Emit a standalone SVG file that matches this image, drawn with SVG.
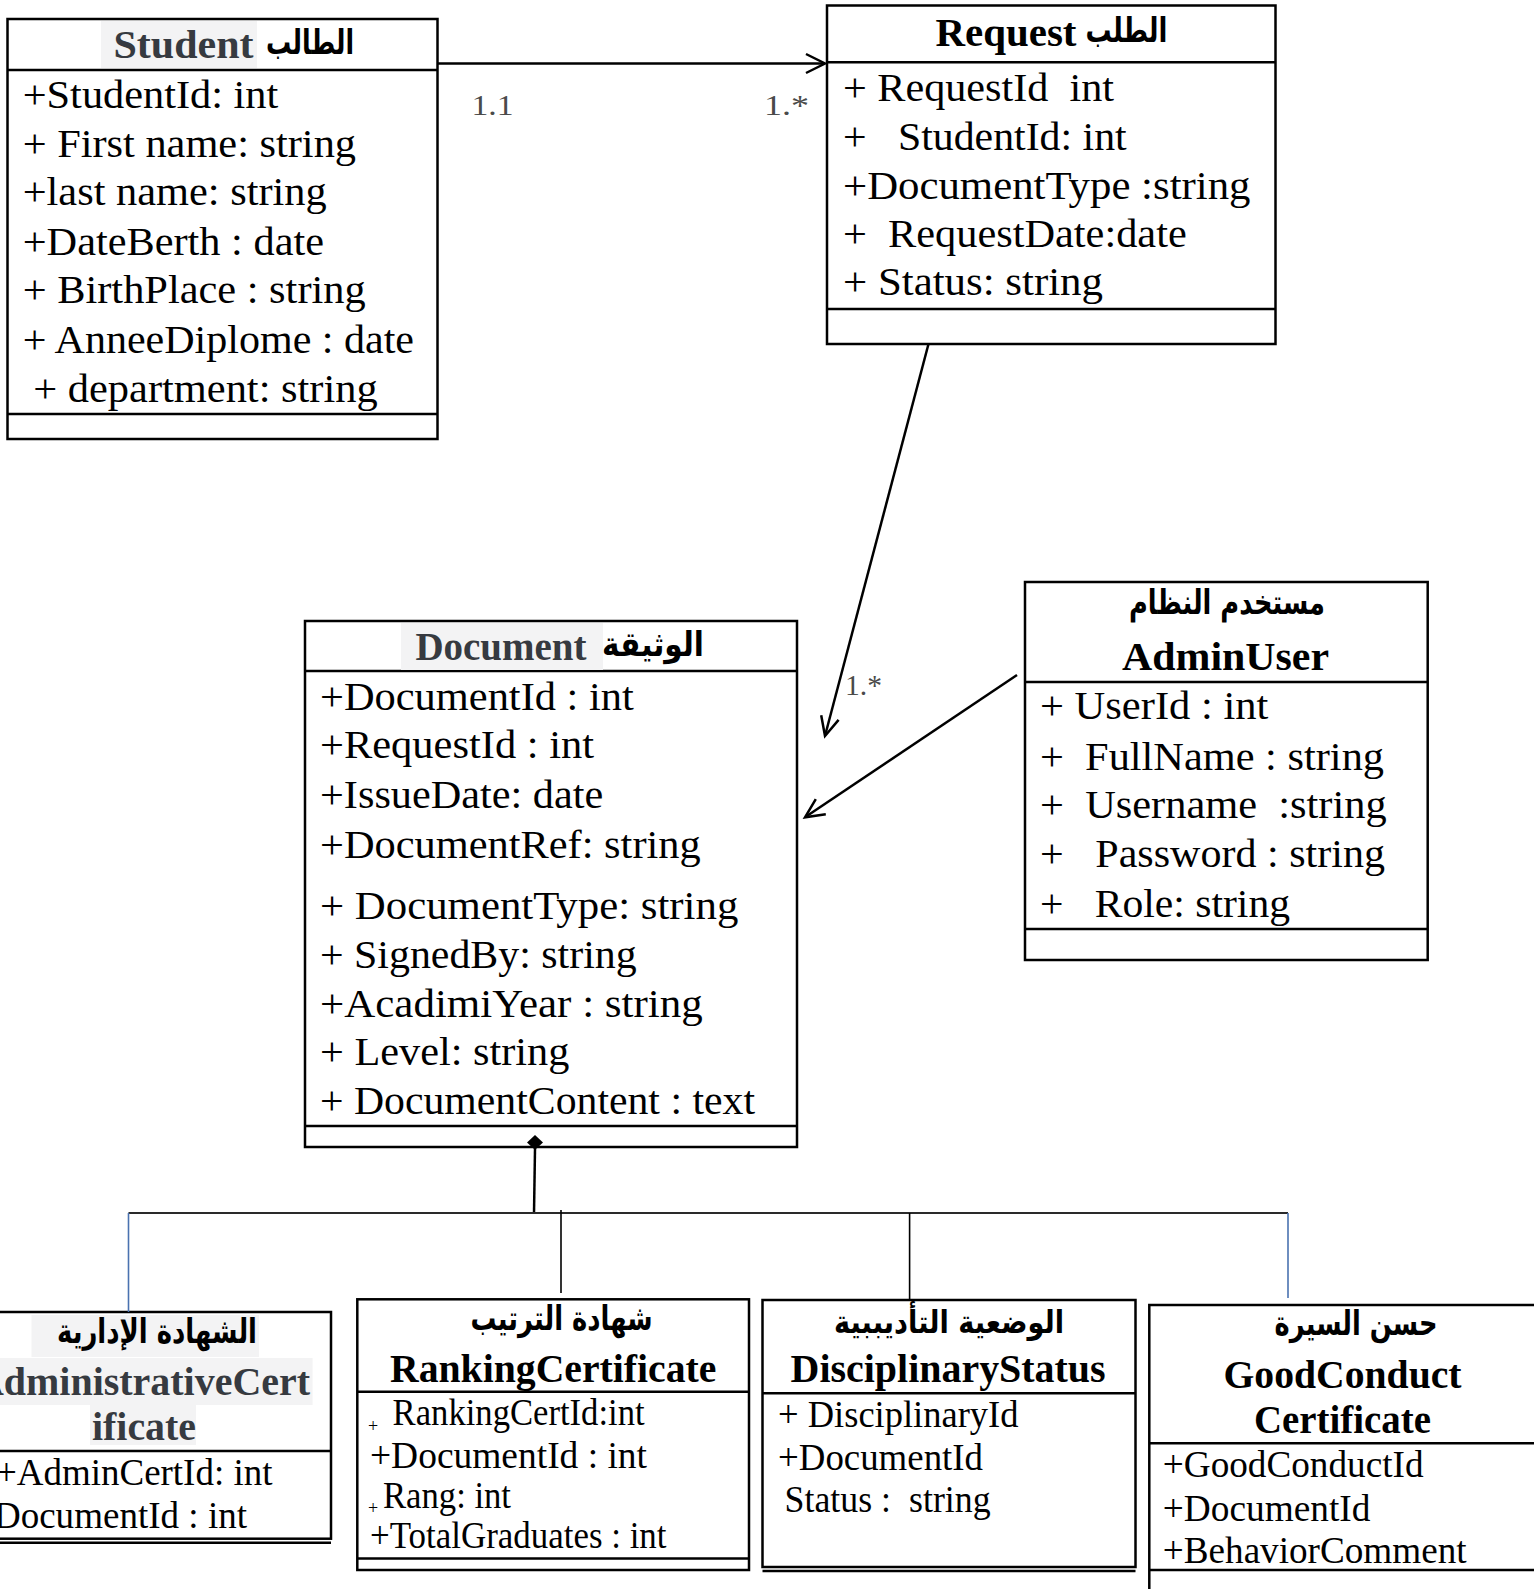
<svg xmlns="http://www.w3.org/2000/svg" width="1534" height="1589" viewBox="0 0 1534 1589">
<defs>
<style>
.box{fill:#fff;stroke:#000;stroke-width:2.5}
.ln{stroke:#000;stroke-width:2.5;fill:none}
.t{font-family:"Liberation Serif","Times New Roman",Times,serif;font-size:41px;fill:#000}
.s{font-size:37px}
.b{font-weight:bold;font-size:40px}
.g{fill:#363a40}
.ar{font-family:"DejaVu Sans","Noto Sans",sans-serif;font-weight:bold;font-size:34px;fill:#000;text-anchor:middle}
.hl{fill:#f3f3f4}
.m{font-family:"Liberation Serif","Times New Roman",Times,serif;font-size:30px;fill:#4a4a4a}
.con{stroke:#000;stroke-width:2.5;fill:none}
.thin{stroke:#000;stroke-width:1.6;fill:none}
.blue{stroke:#4a72b0;stroke-width:1.6;fill:none}
</style>
</defs>
<rect x="0" y="0" width="1534" height="1589" fill="#fff"/>

<g id="student">
<rect class="box" x="7.5" y="19" width="430" height="420"/>
<line class="ln" x1="7.5" y1="70" x2="437.5" y2="70"/>
<line class="ln" x1="7.5" y1="414" x2="437.5" y2="414"/>
<rect class="hl" x="101" y="21" width="156" height="47"/>
<text class="t b g" x="113.5" y="58" textLength="140" lengthAdjust="spacingAndGlyphs">Student</text>
<text class="ar" x="310" y="54" textLength="88" lengthAdjust="spacingAndGlyphs">الطالب</text>
<text class="t" x="22.7" y="108" textLength="255.6" lengthAdjust="spacingAndGlyphs">+StudentId: int</text>
<text class="t" x="22.7" y="157" textLength="333.3" lengthAdjust="spacingAndGlyphs">+ First name: string</text>
<text class="t" x="22.7" y="205" textLength="304" lengthAdjust="spacingAndGlyphs">+last name: string</text>
<text class="t" x="22.7" y="255" textLength="301.3" lengthAdjust="spacingAndGlyphs">+DateBerth : date</text>
<text class="t" x="22.7" y="303" textLength="343" lengthAdjust="spacingAndGlyphs">+ BirthPlace : string</text>
<text class="t" x="22.7" y="353" textLength="391.3" lengthAdjust="spacingAndGlyphs">+ AnneeDiplome : date</text>
<text class="t" x="33.3" y="402" textLength="344.4" lengthAdjust="spacingAndGlyphs">+ department: string</text>
</g>

<g id="request">
<rect class="box" x="827" y="5.5" width="448.5" height="338.5"/>
<line class="ln" x1="827" y1="62.3" x2="1275.5" y2="62.3"/>
<line class="ln" x1="827" y1="309" x2="1275.5" y2="309"/>
<text class="t b" x="935.5" y="45.7" textLength="141" lengthAdjust="spacingAndGlyphs">Request</text>
<text class="ar" x="1126.5" y="42" textLength="82" lengthAdjust="spacingAndGlyphs">الطلب</text>
<text class="t" x="843" y="101" xml:space="preserve" textLength="271" lengthAdjust="spacingAndGlyphs">+ RequestId  int</text>
<text class="t" x="843" y="150" xml:space="preserve" textLength="283.7" lengthAdjust="spacingAndGlyphs">+   StudentId: int</text>
<text class="t" x="843" y="199" textLength="407.5" lengthAdjust="spacingAndGlyphs">+DocumentType :string</text>
<text class="t" x="843" y="247" xml:space="preserve" textLength="343.7" lengthAdjust="spacingAndGlyphs">+  RequestDate:date</text>
<text class="t" x="843" y="295" textLength="260" lengthAdjust="spacingAndGlyphs">+ Status: string</text>
</g>

<g id="document">
<rect class="box" x="305" y="621" width="492" height="526"/>
<line class="ln" x1="305" y1="671" x2="797" y2="671"/>
<line class="ln" x1="305" y1="1126" x2="797" y2="1126"/>
<rect class="hl" x="401" y="623" width="202" height="47"/>
<text class="t b g" x="415.4" y="660" textLength="171" lengthAdjust="spacingAndGlyphs">Document</text>
<text class="ar" x="653" y="656" textLength="102" lengthAdjust="spacingAndGlyphs">الوثيقة</text>
<text class="t" x="320" y="710" textLength="313.8" lengthAdjust="spacingAndGlyphs">+DocumentId : int</text>
<text class="t" x="320" y="758" textLength="274" lengthAdjust="spacingAndGlyphs">+RequestId : int</text>
<text class="t" x="320" y="808" textLength="283.3" lengthAdjust="spacingAndGlyphs">+IssueDate: date</text>
<text class="t" x="320" y="858" textLength="380.7" lengthAdjust="spacingAndGlyphs">+DocumentRef: string</text>
<text class="t" x="320" y="919" textLength="418.3" lengthAdjust="spacingAndGlyphs">+ DocumentType: string</text>
<text class="t" x="320" y="968" textLength="316.7" lengthAdjust="spacingAndGlyphs">+ SignedBy: string</text>
<text class="t" x="320" y="1017" textLength="382.7" lengthAdjust="spacingAndGlyphs">+AcadimiYear : string</text>
<text class="t" x="320" y="1065" textLength="249.3" lengthAdjust="spacingAndGlyphs">+ Level: string</text>
<text class="t" x="320" y="1114" textLength="435" lengthAdjust="spacingAndGlyphs">+ DocumentContent : text</text>
</g>

<g id="adminuser">
<rect class="box" x="1025" y="582" width="402.7" height="378"/>
<line class="ln" x1="1025" y1="682" x2="1427.7" y2="682"/>
<line class="ln" x1="1025" y1="929" x2="1427.7" y2="929"/>
<text class="ar" x="1227" y="614" textLength="196" lengthAdjust="spacingAndGlyphs">مستخدم النظام</text>
<text class="t b" x="1122" y="670" textLength="207" lengthAdjust="spacingAndGlyphs">AdminUser</text>
<text class="t" x="1040" y="719" textLength="228.3" lengthAdjust="spacingAndGlyphs">+ UserId : int</text>
<text class="t" x="1040" y="770" xml:space="preserve" textLength="344" lengthAdjust="spacingAndGlyphs">+  FullName : string</text>
<text class="t" x="1040" y="818" xml:space="preserve" textLength="346.7" lengthAdjust="spacingAndGlyphs">+  Username  :string</text>
<text class="t" x="1040" y="867" xml:space="preserve" textLength="345" lengthAdjust="spacingAndGlyphs">+   Password : string</text>
<text class="t" x="1040" y="917" xml:space="preserve" textLength="250" lengthAdjust="spacingAndGlyphs">+   Role: string</text>
</g>

<g id="admincert">
<rect class="box" x="-45" y="1312" width="376" height="226.7"/>
<line class="ln" x1="-45" y1="1451" x2="331" y2="1451"/>
<line class="ln" x1="-45" y1="1542.7" x2="331" y2="1542.7"/>
<rect class="hl" x="31.5" y="1315" width="227.5" height="42"/>
<rect class="hl" x="0" y="1358" width="312.6" height="47"/>
<rect class="hl" x="90" y="1405" width="106" height="40"/>
<text class="ar g" x="157" y="1343" textLength="200" lengthAdjust="spacingAndGlyphs">الشهادة الإدارية</text>
<text class="t b g" x="-25" y="1395" textLength="335" lengthAdjust="spacingAndGlyphs">AdministrativeCert</text>
<text class="t b g" x="92" y="1440" textLength="104" lengthAdjust="spacingAndGlyphs">ificate</text>
<text class="t s" x="-4" y="1485" textLength="276.4" lengthAdjust="spacingAndGlyphs">+AdminCertId: int</text>
<text class="t s" x="-27" y="1528" textLength="274" lengthAdjust="spacingAndGlyphs">+DocumentId : int</text>
</g>

<g id="ranking">
<rect class="box" x="357.3" y="1299.3" width="391.7" height="270.7"/>
<line class="ln" x1="357.3" y1="1391.7" x2="749" y2="1391.7"/>
<line class="ln" x1="357.3" y1="1558.5" x2="749" y2="1558.5"/>
<text class="ar" x="561.5" y="1330" textLength="182" lengthAdjust="spacingAndGlyphs">شهادة الترتيب</text>
<text class="t b" x="390" y="1381.7" textLength="326.4" lengthAdjust="spacingAndGlyphs">RankingCertificate</text>
<text class="t" x="368" y="1432" style="font-size:18px">+</text>
<text class="t s" x="392.6" y="1425" textLength="252" lengthAdjust="spacingAndGlyphs">RankingCertId:int</text>
<text class="t s" x="370" y="1468" textLength="277" lengthAdjust="spacingAndGlyphs">+DocumentId : int</text>
<text class="t" x="368" y="1514" style="font-size:18px">+</text>
<text class="t s" x="383" y="1508" textLength="128" lengthAdjust="spacingAndGlyphs">Rang: int</text>
<text class="t s" x="370" y="1548" textLength="296.5" lengthAdjust="spacingAndGlyphs">+TotalGraduates : int</text>
</g>

<g id="disciplinary">
<rect class="box" x="762.5" y="1300" width="373" height="267"/>
<line class="ln" x1="762.5" y1="1393.3" x2="1135.5" y2="1393.3"/>
<line class="ln" x1="762.5" y1="1571" x2="1135.5" y2="1571"/>
<text class="ar" x="949" y="1333" style="font-size:32px" textLength="230" lengthAdjust="spacingAndGlyphs">الوضعية التأديببية</text>
<text class="t b" x="790.6" y="1381.7" textLength="315" lengthAdjust="spacingAndGlyphs">DisciplinaryStatus</text>
<text class="t s" x="778" y="1426.7" textLength="240.5" lengthAdjust="spacingAndGlyphs">+ DisciplinaryId</text>
<text class="t s" x="778" y="1470" textLength="205" lengthAdjust="spacingAndGlyphs">+DocumentId</text>
<text class="t s" x="784.6" y="1511.7" xml:space="preserve" textLength="206" lengthAdjust="spacingAndGlyphs">Status :  string</text>
</g>

<g id="goodconduct">
<rect class="box" x="1149.3" y="1305" width="400" height="300"/>
<line class="ln" x1="1149.3" y1="1443.3" x2="1549" y2="1443.3"/>
<line class="ln" x1="1149.3" y1="1570" x2="1549" y2="1570"/>
<text class="ar" x="1356" y="1335" textLength="163" lengthAdjust="spacingAndGlyphs">حسن السيرة</text>
<text class="t b" x="1223.5" y="1388" textLength="238" lengthAdjust="spacingAndGlyphs">GoodConduct</text>
<text class="t b" x="1254" y="1433" textLength="177" lengthAdjust="spacingAndGlyphs">Certificate</text>
<text class="t s" x="1162.8" y="1476.7" textLength="260.7" lengthAdjust="spacingAndGlyphs">+GoodConductId</text>
<text class="t s" x="1162.8" y="1520.7" textLength="207.6" lengthAdjust="spacingAndGlyphs">+DocumentId</text>
<text class="t s" x="1162.8" y="1563.3" textLength="303.8" lengthAdjust="spacingAndGlyphs">+BehaviorComment</text>
</g>

<g id="connectors">
<line class="con" x1="438" y1="63.5" x2="824" y2="63.5"/>
<polyline class="con" points="806,54 825,63.5 806,73"/>
<text class="m" x="471.5" y="115" textLength="42" lengthAdjust="spacingAndGlyphs">1.1</text>
<text class="m" x="764" y="115" textLength="45" lengthAdjust="spacingAndGlyphs">1.*</text>

<line class="con" x1="928.5" y1="344" x2="825.5" y2="734"/>
<polyline class="con" points="821.2,715.3 825,736 838.6,719.9"/>
<text class="m" x="845" y="695" textLength="37" lengthAdjust="spacingAndGlyphs">1.*</text>

<line class="con" x1="1017" y1="675" x2="806.5" y2="816.3"/>
<polyline class="con" points="815.8,799.2 805,817.3 825.8,814.2"/>

<polygon points="535,1135 543,1142.5 535,1150 527,1142.5" fill="#000"/>
<line class="con" x1="535" y1="1149" x2="534" y2="1213"/>
<line x1="128.5" y1="1213" x2="1288" y2="1213" stroke="#2a2a2a" stroke-width="2"/>
<line class="blue" x1="128.5" y1="1213" x2="128.5" y2="1312"/>
<line class="thin" x1="561" y1="1210" x2="561" y2="1293"/>
<line class="thin" x1="909.6" y1="1213" x2="909.6" y2="1300"/>
<line class="blue" x1="1288" y1="1213" x2="1288" y2="1298"/>
</g>
</svg>
